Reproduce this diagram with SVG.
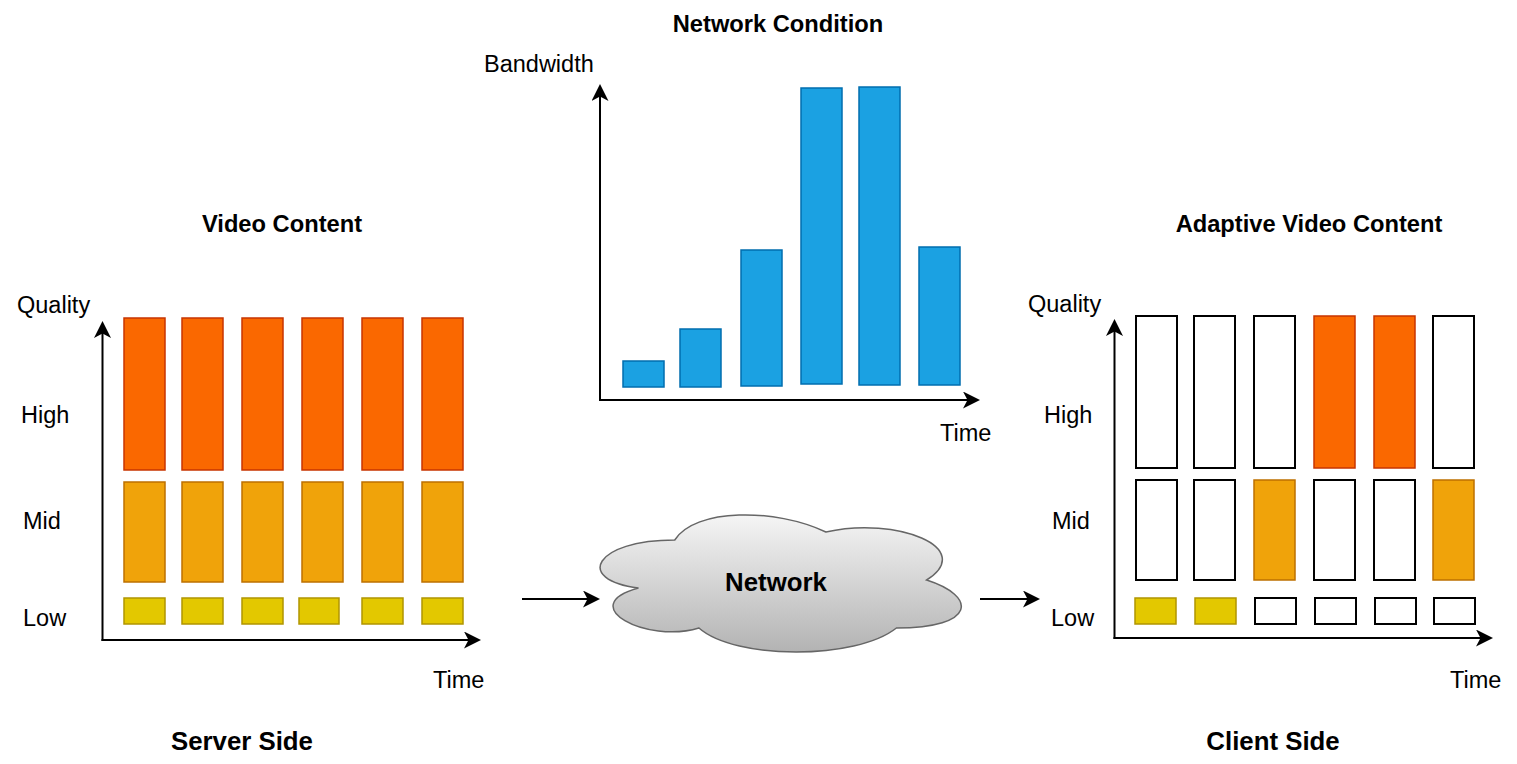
<svg xmlns="http://www.w3.org/2000/svg" width="1517" height="764" viewBox="0 0 1517 764">
<defs>
<marker id="arr" markerUnits="userSpaceOnUse" markerWidth="18" markerHeight="18" refX="11" refY="8.5" orient="auto">
<path d="M0,0 L17,8.5 L0,17 L4.5,8.5 Z" fill="#000"/>
</marker>
<linearGradient id="cloudGrad" x1="0" y1="0" x2="0" y2="1">
<stop offset="0" stop-color="#f5f5f5"/>
<stop offset="1" stop-color="#b3b3b3"/>
</linearGradient>
</defs>
<style>
text{font-family:"Liberation Sans",Arial,Helvetica,sans-serif;fill:#000}
.t{font-size:23.5px}
.b{font-size:23.7px;font-weight:bold}
.bb{font-size:25.8px;font-weight:bold}
.axis{stroke:#000;stroke-width:2;fill:none}
.hi{fill:#fa6800;stroke:#c73500;stroke-width:1.5}
.mi{fill:#f0a30a;stroke:#bd7000;stroke-width:1.5}
.lo{fill:#e3c800;stroke:#b09500;stroke-width:1.5}
.em{fill:#fff;stroke:#000;stroke-width:2}
.bw{fill:#1ba1e2;stroke:#006eaf;stroke-width:1.5}
</style>
<rect width="1517" height="764" fill="#fff"/>

<g id="network-condition">
<text class="b" x="778" y="32" text-anchor="middle">Network Condition</text>
<text class="t" x="484" y="72">Bandwidth</text>
<text class="t" x="940" y="441">Time</text>
<rect class="bw" x="623" y="361" width="41" height="26"/>
<rect class="bw" x="680" y="329" width="41" height="58"/>
<rect class="bw" x="741" y="250" width="41" height="136"/>
<rect class="bw" x="801" y="88" width="41" height="296"/>
<rect class="bw" x="859" y="87" width="41" height="298"/>
<rect class="bw" x="919" y="247" width="41" height="138"/>
</g>

<g id="server-side">
<text class="b" x="282" y="232" text-anchor="middle">Video Content</text>
<text class="t" x="17" y="313">Quality</text>
<text class="t" x="21" y="423">High</text>
<text class="t" x="23" y="529">Mid</text>
<text class="t" x="23" y="626">Low</text>
<text class="t" x="433" y="688">Time</text>
<text class="bb" x="242" y="750" text-anchor="middle">Server Side</text>
<rect class="hi" x="124" y="318" width="41" height="152"/>
<rect class="hi" x="182" y="318" width="41" height="152"/>
<rect class="hi" x="242" y="318" width="41" height="152"/>
<rect class="hi" x="302" y="318" width="41" height="152"/>
<rect class="hi" x="362" y="318" width="41" height="152"/>
<rect class="hi" x="422" y="318" width="41" height="152"/>
<rect class="mi" x="124" y="482" width="41" height="100"/>
<rect class="mi" x="182" y="482" width="41" height="100"/>
<rect class="mi" x="242" y="482" width="41" height="100"/>
<rect class="mi" x="302" y="482" width="41" height="100"/>
<rect class="mi" x="362" y="482" width="41" height="100"/>
<rect class="mi" x="422" y="482" width="41" height="100"/>
<rect class="lo" x="124" y="598" width="41" height="26"/>
<rect class="lo" x="182" y="598" width="41" height="26"/>
<rect class="lo" x="242" y="598" width="41" height="26"/>
<rect class="lo" x="299" y="598" width="40" height="26"/>
<rect class="lo" x="362" y="598" width="41" height="26"/>
<rect class="lo" x="422" y="598" width="41" height="26"/>
</g>

<g id="network">
<path d="M674.75,540 C594.15,540 574,580 638.48,588 C574,605.6 646.54,644 698.93,628 C735.2,660 856.1,660 896.4,628 C977,628 977,596 926.63,580 C977,548 896.4,516 825.88,532 C775.5,508 694.9,508 674.75,540 Z" fill="url(#cloudGrad)" stroke="#666" stroke-width="1.5"/>
<text class="bb" x="776" y="591" text-anchor="middle">Network</text>
</g>

<g id="client-side">
<text class="b" x="1309" y="232" text-anchor="middle">Adaptive Video Content</text>
<text class="t" x="1028" y="312">Quality</text>
<text class="t" x="1044" y="423">High</text>
<text class="t" x="1052" y="529">Mid</text>
<text class="t" x="1051" y="626">Low</text>
<text class="t" x="1450" y="688">Time</text>
<text class="bb" x="1273" y="750" text-anchor="middle">Client Side</text>
<rect class="em" x="1136" y="316" width="41" height="152"/>
<rect class="em" x="1194" y="316" width="41" height="152"/>
<rect class="em" x="1254" y="316" width="41" height="152"/>
<rect class="hi" x="1314" y="316" width="41" height="152"/>
<rect class="hi" x="1374" y="316" width="41" height="152"/>
<rect class="em" x="1433" y="316" width="41" height="152"/>
<rect class="em" x="1136" y="480" width="41" height="100"/>
<rect class="em" x="1194" y="480" width="41" height="100"/>
<rect class="mi" x="1254" y="480" width="41" height="100"/>
<rect class="em" x="1314" y="480" width="41" height="100"/>
<rect class="em" x="1374" y="480" width="41" height="100"/>
<rect class="mi" x="1433" y="480" width="41" height="100"/>
<rect class="lo" x="1135" y="598" width="41" height="26"/>
<rect class="lo" x="1195" y="598" width="41" height="26"/>
<rect class="em" x="1255" y="598" width="41" height="26"/>
<rect class="em" x="1315" y="598" width="41" height="26"/>
<rect class="em" x="1375" y="598" width="41" height="26"/>
<rect class="em" x="1434" y="598" width="41" height="26"/>
</g>

<g id="connectors">
<line class="axis" x1="102.5" y1="641" x2="102.5" y2="327" marker-end="url(#arr)"/>
<line class="axis" x1="101.5" y1="640" x2="475" y2="640" marker-end="url(#arr)"/>
<line class="axis" x1="600" y1="401" x2="600" y2="90" marker-end="url(#arr)"/>
<line class="axis" x1="599" y1="400" x2="974" y2="400" marker-end="url(#arr)"/>
<line class="axis" x1="1114.5" y1="639" x2="1114.5" y2="325" marker-end="url(#arr)"/>
<line class="axis" x1="1113.5" y1="638" x2="1487" y2="638" marker-end="url(#arr)"/>
<line class="axis" x1="522" y1="599" x2="594" y2="599" marker-end="url(#arr)"/>
<line class="axis" x1="980" y1="599" x2="1034" y2="599" marker-end="url(#arr)"/>
</g>
</svg>
